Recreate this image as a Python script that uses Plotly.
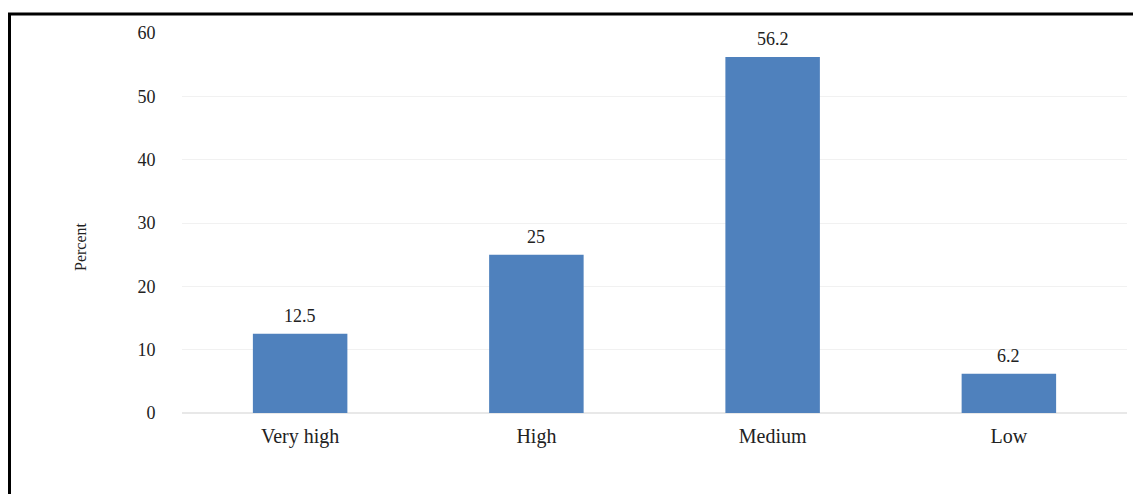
import plotly.graph_objects as go

categories = ["Very high", "High", "Medium", "Low"]
values = [12.5, 25, 56.2, 6.2]
labels = ["12.5", "25", "56.2", "6.2"]
y_ticks = [0, 10, 20, 30, 40, 50, 60]

# page body has an 8px margin; work in window pixels
OFF = 8
W, H = 1141 - 2 * OFF, 502 - 2 * OFF
PL, PR, PT, PB = 182, 1127, 33, 413  # plot area in window px
L, R, T, B = PL - OFF, W - (PR - OFF), PT - OFF, H - (PB - OFF)
pw, ph = PR - PL, PB - PT

def px_x(x):
    return (x - PL) / pw

def px_y(y):
    return (PB - y) / ph

SERIF = "Liberation Serif"

fig = go.Figure(go.Bar(
    x=categories, y=values,
    marker=dict(color="#4f81bd", line=dict(width=0)),
    width=0.4,
))

for c, v, t in zip(categories, values, labels):
    fig.add_annotation(x=c, y=v, text=t, showarrow=False, yanchor="bottom",
                       yshift=6, font=dict(family=SERIF, size=18, color="#222"))

fig.add_annotation(xref="paper", yref="paper", x=px_x(80), y=px_y(247),
                   text="Percent", textangle=-90, showarrow=False,
                   xanchor="center", yanchor="middle",
                   font=dict(family=SERIF, size=16, color="#222"))

fig.add_shape(type="rect", xref="paper", yref="paper",
              x0=px_x(9.5), x1=px_x(1160), y0=px_y(14), y1=px_y(520),
              line=dict(color="black", width=3), fillcolor="rgba(0,0,0,0)")

fig.update_layout(
    width=W, height=H,
    margin=dict(l=L, r=R, t=T, b=B, pad=0),
    paper_bgcolor="white", plot_bgcolor="white",
    showlegend=False,
    font=dict(family=SERIF, color="#222"),
    xaxis=dict(showgrid=False, showline=False, zeroline=False,
               ticks="outside", ticklen=5, tickcolor="rgba(0,0,0,0)",
               tickfont=dict(size=20, family=SERIF)),
    yaxis=dict(range=[0, 60], tickvals=y_ticks, showgrid=True,
               gridcolor="#f1f1f1", gridwidth=1, zeroline=True,
               zerolinecolor="#e8e8e8", showline=False,
               ticks="outside", ticklen=22, tickcolor="rgba(0,0,0,0)",
               tickfont=dict(size=18, family=SERIF)),
)

fig.write_html("out.html")
